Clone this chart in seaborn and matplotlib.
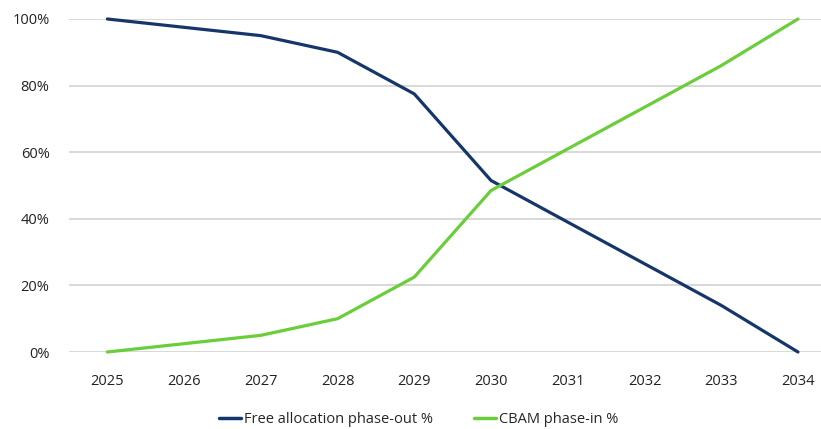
import matplotlib
matplotlib.use("Agg")
import matplotlib.pyplot as plt
import seaborn as sns
import pandas as pd
from matplotlib.ticker import PercentFormatter

years = ["2025", "2026", "2027", "2028", "2029", "2030", "2031", "2032", "2033", "2034"]
free_allocation = [100, 97.5, 95, 90, 77.5, 51.5, 39, 26.5, 14, 0]
cbam_phase_in = [0, 2.5, 5, 10, 22.5, 48.5, 61, 73.5, 86, 100]
series_names = ["Free allocation phase-out %", "CBAM phase-in %"]
colors = ["#15366b", "#6acd3a"]

df = pd.DataFrame({
    "year": years * 2,
    "pos": list(range(len(years))) * 2,
    "value": free_allocation + cbam_phase_in,
    "series": [series_names[0]] * len(years) + [series_names[1]] * len(years),
})

sns.set_theme(style="white")
plt.rcParams["font.family"] = ["Open Sans", "DejaVu Sans"]

fig = plt.figure(figsize=(8.21, 4.29), dpi=100)
ax = fig.add_axes([69 / 821, 77 / 429, 1 - 69 / 821, 333 / 429])

sns.lineplot(data=df, x="pos", y="value", hue="series", palette=colors,
             linewidth=2.3, ax=ax, clip_on=False, zorder=3)

ax.set_xlim(-0.5, 9.3)
ax.set_ylim(0, 100)
ax.set_yticks([0, 20, 40, 60, 80, 100])
ax.yaxis.set_major_formatter(PercentFormatter(decimals=0))
ax.set_xticks(range(len(years)))
ax.set_xticklabels(years)
ax.grid(axis="y", color="#d8d8d8", linewidth=1.4, zorder=0)
ax.grid(axis="x", visible=False)
for s in ax.spines.values():
    s.set_visible(False)
ax.tick_params(axis="both", length=0, labelsize=10.5, colors="#222222")
ax.tick_params(axis="x", pad=16)
ax.tick_params(axis="y", pad=14)
ax.set_xlabel("")
ax.set_ylabel("")

leg = ax.legend(loc="upper center", bbox_to_anchor=(0.5 - 0.035, -0.14), ncol=2,
                frameon=False, fontsize=10.5, handlelength=1.5, handletextpad=0.2,
                columnspacing=2.8)
for h in leg.get_lines():
    h.set_linewidth(2.5)

fig.savefig("out.png", dpi=100)
